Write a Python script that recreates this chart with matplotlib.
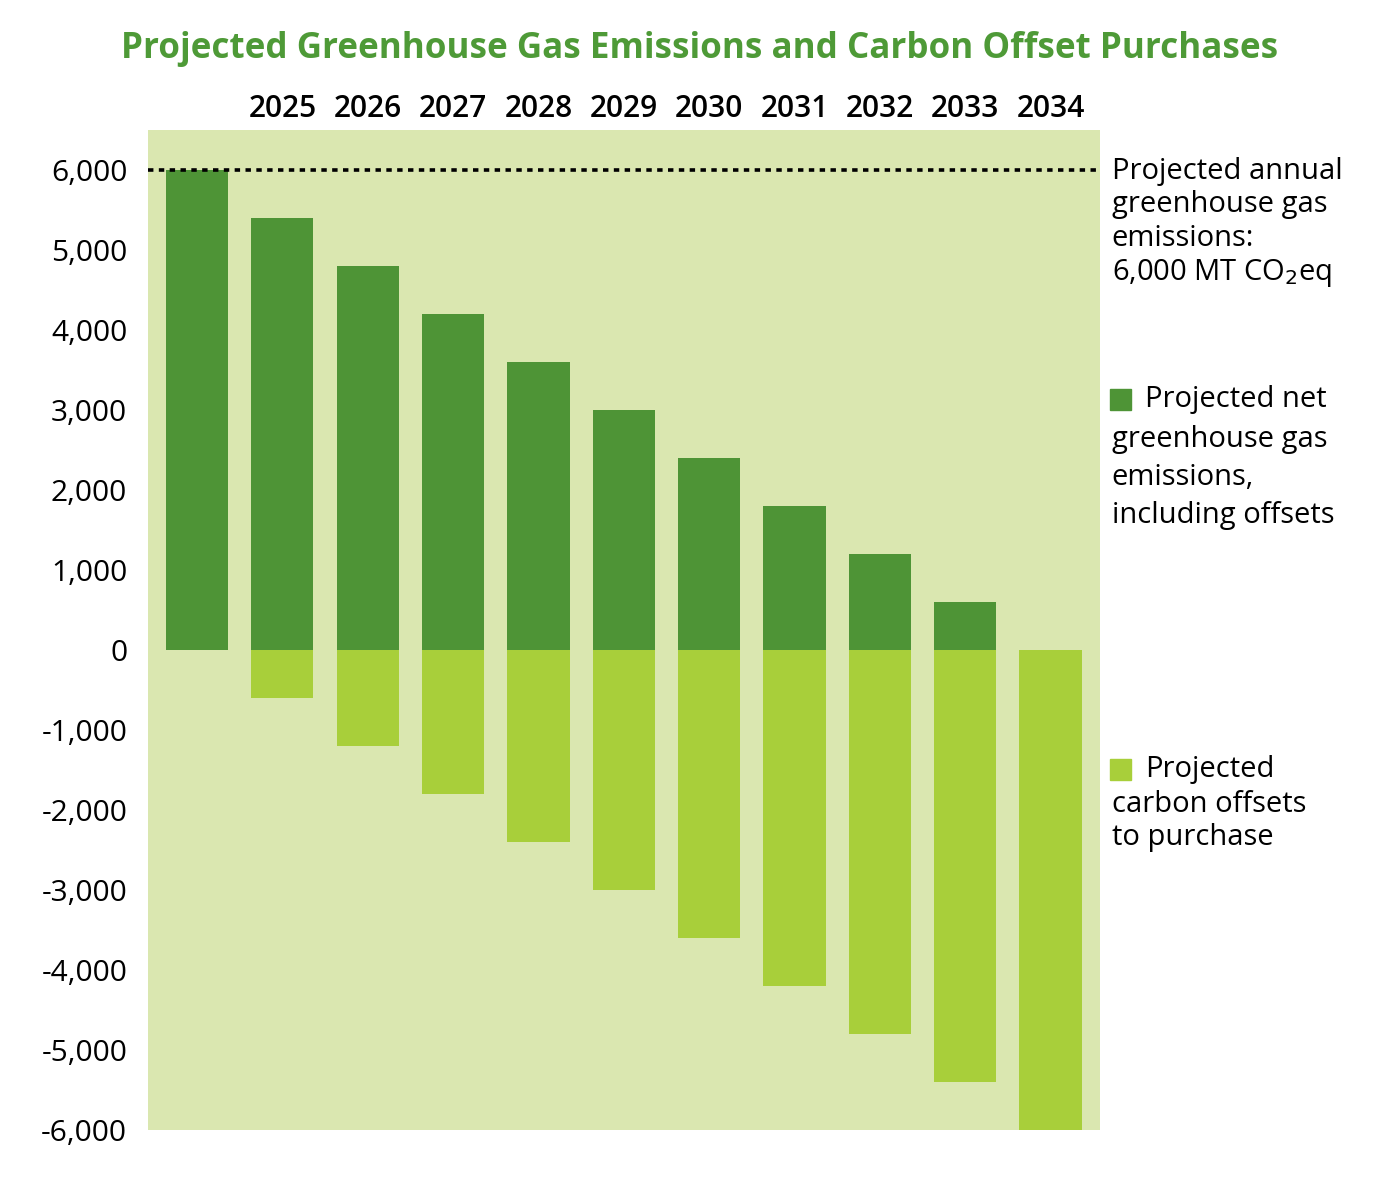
import matplotlib.pyplot as plt

plt.rcParams["font.family"] = ["Open Sans", "DejaVu Sans"]

# data
years = ["", "2025", "2026", "2027", "2028", "2029", "2030", "2031", "2032", "2033", "2034"]
net_emissions = [6000, 5400, 4800, 4200, 3600, 3000, 2400, 1800, 1200, 600, 0]
offsets = [0, -600, -1200, -1800, -2400, -3000, -3600, -4200, -4800, -5400, -6000]
annual_emissions = 6000
yticks = list(range(-6000, 6001, 1000))

DARK = "#4e9436"
LIGHT = "#a8cf3a"
BG = "#dae7b0"
TITLE = "#4e9a37"

fig = plt.figure(figsize=(14, 12), dpi=100)
ax = fig.add_axes([0.1057, 0.0583, 0.68, 0.8334])
ax.set_facecolor(BG)

x = list(range(len(years)))
ax.bar(x, net_emissions, width=0.73, color=DARK, zorder=2)
ax.bar(x, offsets, width=0.73, color=LIGHT, zorder=2)
ax.axhline(annual_emissions, color="black", linestyle=(0, (1.5, 1.5)), lw=2.6, zorder=3)

ax.set_xlim(-0.574, 10.58)
ax.set_ylim(-6000, 6500)

ax.set_yticks(yticks)
ax.set_yticklabels([f"{v:,}".replace("−", "-") for v in yticks], fontsize=21.5)
ax.tick_params(axis="y", length=0, pad=15)

ax.xaxis.tick_top()
ax.set_xticks(x[1:])
ax.set_xticklabels(years[1:], fontsize=21.5, fontweight="semibold")
ax.tick_params(axis="x", length=0, pad=4)

for s in ax.spines.values():
    s.set_visible(False)

fig.text(0.5, 0.959, "Projected Greenhouse Gas Emissions and Carbon Offset Purchases",
         ha="center", va="center", fontsize=25.2, fontweight="bold", color=TITLE)

FS = 21

# right-hand annotations
fig.text(0.794, 0.869, "Projected annual\ngreenhouse gas\nemissions:\n6,000 MT CO$_2$eq",
         ha="left", va="top", fontsize=FS, linespacing=1.19)

fig.patches.append(plt.Rectangle((0.7929, 0.658), 0.0150, 0.0175,
                                 transform=fig.transFigure, color=DARK))
fig.text(0.818, 0.667, "Projected net", ha="left", va="center", fontsize=FS)
fig.text(0.794, 0.646, "greenhouse gas\nemissions,\nincluding offsets",
         ha="left", va="top", fontsize=FS, linespacing=1.41)

fig.patches.append(plt.Rectangle((0.7929, 0.350), 0.0150, 0.0175,
                                 transform=fig.transFigure, color=LIGHT))
fig.text(0.818, 0.359, "Projected", ha="left", va="center", fontsize=FS)
fig.text(0.794, 0.342, "carbon offsets\nto purchase",
         ha="left", va="top", fontsize=FS, linespacing=1.2)

fig.savefig("out.png", dpi=100)
